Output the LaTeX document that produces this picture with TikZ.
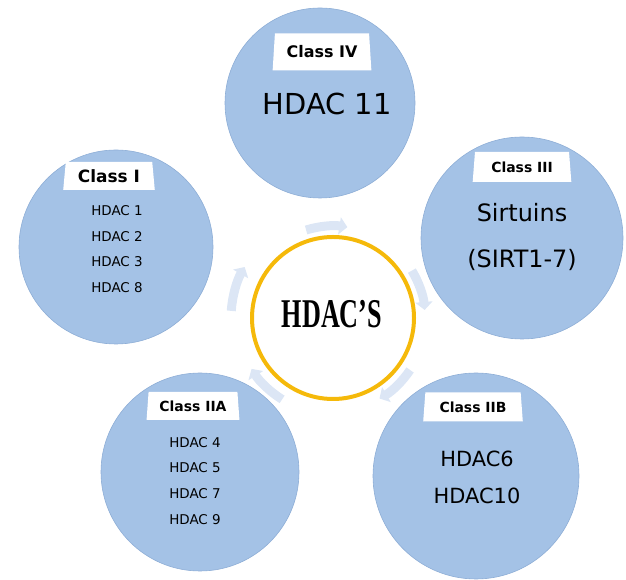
\documentclass[tikz,border=0pt]{standalone}
\usepackage{fontspec}
\setmainfont{DejaVu Sans}
\newfontfamily\hubfont{Liberation Serif}
\usepackage{tikz}
\usetikzlibrary{shapes.geometric,arrows.meta,positioning}
\definecolor{clsblue}{RGB}{164,194,230}
\definecolor{clsline}{RGB}{142,174,214}
\definecolor{ringgold}{RGB}{245,185,10}
\definecolor{cycblue}{RGB}{220,230,245}

\begin{document}
\begin{tikzpicture}[x=1bp,y=1bp,
  cls/.style={circle,fill=clsblue,draw=clsline,line width=0.6bp,inner sep=0pt},
  hdr/.style={trapezium,trapezium left angle=82,trapezium right angle=82,trapezium stretches=true,fill=white,inner sep=0pt},
  body/.style={align=center,inner sep=0pt},
  cyc/.style={cycblue,line width=9bp,-{Triangle[width=17bp,length=8bp]}}]
\useasboundingbox (0,0) rectangle (626,580);

\node[circle,draw=ringgold,line width=4bp,minimum size=162bp,inner sep=0pt](0) at (333,262) {};
\node[inner sep=0pt](0t) at (332,266) {\scalebox{0.64}[1]{\hubfont\bfseries\fontsize{41}{41}\selectfont HDAC’S}};

% cycle arrows round the hub
\foreach \a/\r in {94/92,163/102,18/92,225/96,313/93}
  \draw[cyc] ([shift={(\a+13:\r bp)}]0.center) arc[start angle=\a+13,end angle=\a-13,radius=\r bp];

\node[cls,minimum size=194bp](1) at (116,333) {};
\node[cls,minimum size=190bp](2) at (320,477) {};
\node[cls,minimum size=202bp](3) at (522,342) {};
\node[cls,minimum size=206bp](4) at (476,104) {};
\node[cls,minimum size=198bp](5) at (200,108) {};

\node[hdr,minimum width=92bp,minimum height=28bp,font=\bfseries\fontsize{17}{20}\selectfont](1h) at (109,404) {Class I};
\node[hdr,minimum width=99bp,minimum height=37bp,font=\bfseries\fontsize{16}{19}\selectfont](2h) at (322,528) {Class IV};
\node[hdr,minimum width=99bp,minimum height=30bp,font=\bfseries\fontsize{14}{17}\selectfont](3h) at (522,413) {Class III};
\node[hdr,minimum width=100bp,minimum height=29bp,font=\bfseries\fontsize{14}{17}\selectfont](4h) at (473,173) {Class IIB};
\node[hdr,minimum width=93bp,minimum height=28bp,font=\bfseries\fontsize{14}{17}\selectfont](5h) at (193,174) {Class IIA};

\node[body,font=\fontsize{13.5}{25.7}\selectfont](1b) at (117,331) {HDAC 1\\HDAC 2\\HDAC 3\\HDAC 8};
\node[body,font=\fontsize{29}{34}\selectfont](2b) at (327,476) {HDAC 11};
\node[body,font=\fontsize{24}{47}\selectfont](3b) at (522,343) {Sirtuins\\(SIRT1-7)};
\node[body,font=\fontsize{21}{37}\selectfont](4b) at (477,103) {HDAC6\\HDAC10};
\node[body,font=\fontsize{13.5}{26}\selectfont](5b) at (195,99) {HDAC 4\\HDAC 5\\HDAC 7\\HDAC 9};
\end{tikzpicture}
\end{document}
